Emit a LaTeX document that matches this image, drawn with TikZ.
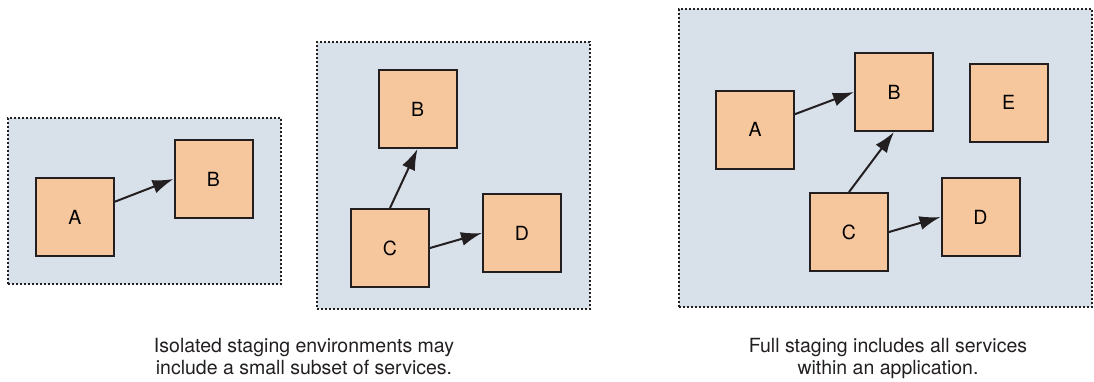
\documentclass[tikz,border=0pt]{standalone}
\usepackage{fontspec}
\setmainfont{TeX Gyre Heros}
\usetikzlibrary{arrows.meta}

\definecolor{envfill}{HTML}{D8E0EA}
\definecolor{svcfill}{HTML}{F6C79C}
\definecolor{ink}{HTML}{231F20}

\begin{document}
\begin{tikzpicture}[x=1pt, y=-1pt,
    panel/.style={draw=ink, fill=envfill, line width=2pt, dash pattern=on 2pt off 2pt},
    svc/.style={draw=ink, fill=svcfill, line width=2pt, minimum width=78pt, minimum height=78pt,
        font=\fontsize{19.5pt}{21pt}\selectfont},
    link/.style={draw=ink, line width=2pt, -{Latex[length=21pt, width=14pt]}},
    caption/.style={align=center, inner sep=0pt, text=ink, font=\fontsize{19.5pt}{22.5pt}\selectfont}]
    \useasboundingbox (0,0) rectangle (1094,381);

    % Isolated staging, first environment
    \node[panel, minimum width=273pt, minimum height=166pt] (env1) at (144.5,201) {};
    \node[svc] (aA) at (75,217) {A};
    \node[svc] (aB) at (213.5,179) {B};

    % Isolated staging, second environment
    \node[panel, minimum width=273pt, minimum height=267pt] (env2) at (453.5,175.5) {};
    \node[svc] (bB) at (417.5,109) {B};
    \node[svc] (bC) at (390,248) {C};
    \node[svc] (bD) at (522,233) {D};

    % Full staging
    \node[panel, minimum width=413pt, minimum height=298pt] (env3) at (885,157.5) {};
    \node[svc] (fA) at (755,129.5) {A};
    \node[svc] (fB) at (894,92) {B};
    \node[svc] (fE) at (1008.5,102.5) {E};
    \node[svc] (fC) at (849,232) {C};
    \node[svc] (fD) at (980.5,217) {D};

    % Captions
    \node[caption, anchor=north] (cap1) at (304,338) {Isolated staging environments may\\include a small subset of services.};
    \node[caption, anchor=north] (cap2) at (888,338) {Full staging includes all services\\within an application.};

    % Arrows
    \draw[link] (aA.21) -- (aB.west);

    \draw[link] (bC.north) -- (bB.south);
    \draw[link] (bC.east) -- (bD.west);

    \draw[link] (fA.21) -- (fB.west);
    \draw[link] (fC.north) -- (fB.south);
    \draw[link] (fC.east) -- (fD.west);
\end{tikzpicture}
\end{document}
